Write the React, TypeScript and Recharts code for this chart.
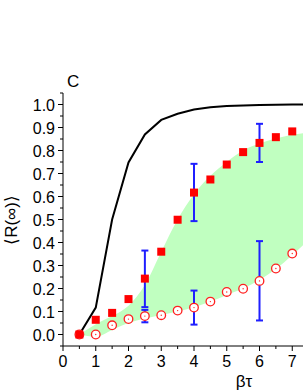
import React from "react";
import { ComposedChart, Area, Line, Scatter, XAxis, YAxis, ErrorBar } from "recharts";

const xs = [0.5, 1, 1.5, 2, 2.5, 3, 3.5, 4, 4.5, 5, 5.5, 6, 6.5, 7, 7.5, 8];
const theory = [0, 0.117, 0.5, 0.748, 0.87, 0.933, 0.96, 0.978, 0.988, 0.993, 0.996, 0.998, 0.999, 1.0, 1.0, 1.0];
const bandLow = [0, -0.01, 0.02, 0.05, 0.07, 0.085, 0.1, 0.118, 0.143, 0.172, 0.2, 0.237, 0.285, 0.345, 0.41, 0.47];
const bandHigh = [0, 0.045, 0.08, 0.125, 0.215, 0.36, 0.5, 0.61, 0.69, 0.75, 0.8, 0.83, 0.852, 0.868, 0.878, 0.886];

const sqX = [0.5, 1, 1.5, 2, 2.5, 3, 3.5, 4, 4.5, 5, 5.5, 6, 6.5, 7];
const squares = [0, 0.064, 0.094, 0.154, 0.243, 0.36, 0.499, 0.617, 0.674, 0.739, 0.793, 0.833, 0.858, 0.883];
const circles = [0, 0, 0.04, 0.067, 0.08, 0.084, 0.104, 0.117, 0.143, 0.185, 0.199, 0.233, 0.287, 0.352];

const errX = [2.5, 4, 6];
const sqErrLow = [0.119, 0.493, 0.75];
const sqErrHigh = [0.365, 0.742, 0.916];
const ciErrLow = [0.053, 0.043, 0.061];
const ciErrHigh = [0.107, 0.191, 0.406];

const xTicks = [0, 0.5, 1, 1.5, 2, 2.5, 3, 3.5, 4, 4.5, 5, 5.5, 6, 6.5, 7, 7.5];
const xTickLabels = ["0", "", "1", "", "2", "", "3", "", "4", "", "5", "", "6", "", "7", ""];
const yTicks = [-0.05, 0, 0.05, 0.1, 0.15, 0.2, 0.25, 0.3, 0.35, 0.4, 0.45, 0.5, 0.55, 0.6, 0.65, 0.7, 0.75, 0.8, 0.85, 0.9, 0.95, 1.0, 1.05];

const FONT = "Liberation Sans, Arial, sans-serif";

const lineData = xs.map((x, i) => ({ x, theory: theory[i], band: [bandLow[i], bandHigh[i]] }));
const sqData = sqX.map((x, i) => ({ x, y: squares[i] }));
const ciData = sqX.map((x, i) => ({ x, y: circles[i] }));
const sqErrData = errX.map((x, i) => {
  const y = squares[sqX.indexOf(x)];
  return { x, y, err: [y - sqErrLow[i], sqErrHigh[i] - y] };
});
const ciErrData = errX.map((x, i) => {
  const y = circles[sqX.indexOf(x)];
  return { x, y, err: [y - ciErrLow[i], ciErrHigh[i] - y] };
});

const isMajor = (v: number, step: number) => Math.abs(v / step - Math.round(v / step)) < 1e-6;

const YTick = (props: any) => {
  const { x, y, payload } = props;
  const v = payload.value as number;
  const major = isMajor(v, 0.1) && v > -0.01;
  return (
    <g>
      <line x1={x} x2={x - (major ? 5 : 3)} y1={y} y2={y} stroke="#000" strokeWidth={1} />
      {major && (
        <text x={x - 8} y={y} dy={6} textAnchor="end" fontSize={16} fontFamily={FONT} fill="#000">
          {v.toFixed(1)}
        </text>
      )}
    </g>
  );
};

const XTick = (props: any) => {
  const { x, y, payload } = props;
  const v = payload.value as number;
  const idx = xTicks.indexOf(v);
  const label = idx >= 0 ? xTickLabels[idx] : "";
  const major = label !== "";
  return (
    <g>
      <line x1={x} x2={x} y1={y} y2={y + (major ? 5 : 3)} stroke="#000" strokeWidth={1} />
      {major && (
        <text x={x} y={y} dy={21} textAnchor="middle" fontSize={16} fontFamily={FONT} fill="#000">
          {label}
        </text>
      )}
    </g>
  );
};

const Square = (props: any) => {
  const { cx, cy } = props;
  if (cx == null || cy == null) return null;
  return <rect x={cx - 4} y={cy - 4} width={8} height={8} fill="#ff0000" />;
};

const OpenCircle = (props: any) => {
  const { cx, cy } = props;
  if (cx == null || cy == null) return null;
  return (
    <g>
      <circle cx={cx} cy={cy} r={4.3} fill="#fff" stroke="#ff2020" strokeWidth={1.3} />
      <circle cx={cx} cy={cy} r={0.7} fill="#ff2020" />
    </g>
  );
};

const Nothing = () => null;

export default function App() {
  return (
    <div style={{ position: "absolute", left: 0, top: 0, width: 303, height: 392, overflow: "hidden", background: "#fff" }}>
      <ComposedChart
        width={330}
        height={392}
        data={lineData}
        margin={{ top: 93, right: 5, bottom: 0, left: 0 }}
      >
        <XAxis
          dataKey="x"
          type="number"
          domain={[0, 8]}
          ticks={xTicks}
          interval={0}
          height={46}
          tickSize={0}
          tickMargin={0}
          tickLine={false}
          tick={<XTick />}
          axisLine={{ stroke: "#000", strokeWidth: 1 }}
          allowDataOverflow
        />
        <YAxis
          type="number"
          domain={[-0.05, 1.05]}
          ticks={yTicks}
          interval={0}
          width={63}
          tickSize={0}
          tickMargin={0}
          tickLine={false}
          tick={<YTick />}
          axisLine={{ stroke: "#000", strokeWidth: 1 }}
          allowDataOverflow
        />
        <Area
          dataKey="band"
          type="monotone"
          fill="#c0ffc0"
          fillOpacity={1}
          stroke="none"
          isAnimationActive={false}
          activeDot={false}
        />
        <Line
          dataKey="theory"
          type="linear"
          stroke="#000"
          strokeWidth={2}
          dot={false}
          activeDot={false}
          isAnimationActive={false}
        />
        <Scatter data={sqErrData} dataKey="y" shape={<Nothing />} isAnimationActive={false}>
          <ErrorBar dataKey="err" direction="y" width={3.5} stroke="#1f1fff" strokeWidth={2} isAnimationActive={false} />
        </Scatter>
        <Scatter data={ciErrData} dataKey="y" shape={<Nothing />} isAnimationActive={false}>
          <ErrorBar dataKey="err" direction="y" width={3.5} stroke="#1f1fff" strokeWidth={2} isAnimationActive={false} />
        </Scatter>
        <Scatter data={ciData} dataKey="y" shape={<OpenCircle />} isAnimationActive={false} />
        <Scatter data={sqData} dataKey="y" shape={<Square />} isAnimationActive={false} />
      </ComposedChart>
      <svg width={303} height={392} style={{ position: "absolute", left: 0, top: 0, pointerEvents: "none" }}>
        <text x={67} y={87} fontSize={17} fontFamily={FONT} fill="#000">C</text>
        <text x={244} y={387} fontSize={17} fontFamily={FONT} fill="#000" textAnchor="middle">βτ</text>
        <text
          x={0}
          y={0}
          transform="translate(17,220) rotate(-90)"
          fontSize={17}
          fontFamily={FONT}
          fill="#000"
          textAnchor="middle"
        >
          ⟨R(∞)⟩
        </text>
      </svg>
    </div>
  );
}
